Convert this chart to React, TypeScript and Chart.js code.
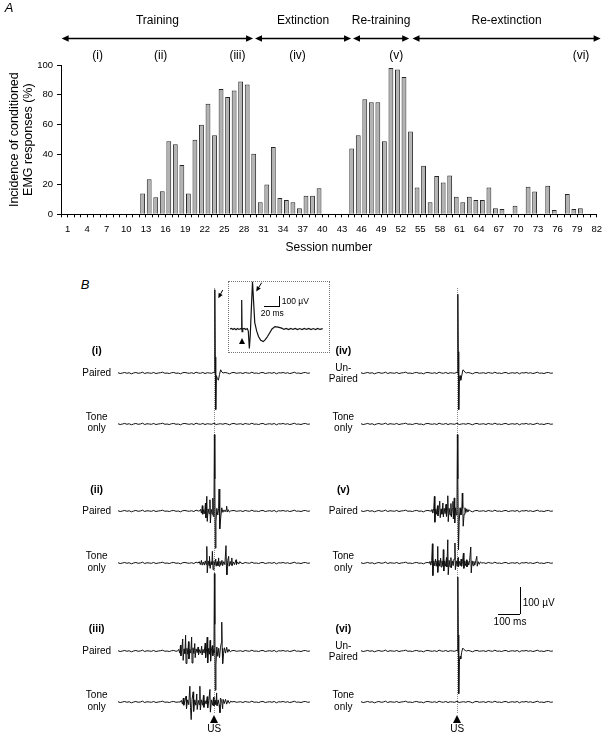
import React, { useEffect, useRef } from 'react';
import { Chart, registerables } from 'chart.js';

Chart.register(...registerables);
const FONT = '"Liberation Sans", Arial, Helvetica, sans-serif';
Chart.defaults.font.family = FONT;
Chart.defaults.color = '#000';

// ---------------- Panel A data ----------------
const sessions = [
  1, 2, 3, 4, 5, 6, 7, 8, 9, 10, 11, 12, 13, 14, 15, 16, 17, 18, 19, 20,
  21, 22, 23, 24, 25, 26, 27, 28, 29, 30, 31, 32, 33, 34, 35, 36, 37, 38, 39, 40,
  41, 42, 43, 44, 45, 46, 47, 48, 49, 50, 51, 52, 53, 54, 55, 56, 57, 58, 59, 60,
  61, 62, 63, 64, 65, 66, 67, 68, 69, 70, 71, 72, 73, 74, 75, 76, 77, 78, 79, 80,
  81, 82,
];
const incidence = [
  0, 0, 0, 0, 0, 0, 0, 0, 0, 0,
  0, 0, 14, 23.5, 11.5, 15.5, 49, 47, 33, 14,
  50, 60, 74, 53, 84, 78.5, 83, 89, 87, 40.5,
  8, 20, 45, 11, 9.5, 8, 4, 12.5, 12.5, 17.5,
  0, 0, 0, 0, 44, 53, 77, 75, 75, 49,
  98, 97, 92, 55.5, 18, 32.5, 8, 25.7, 21.3, 26,
  11.8, 8, 11.8, 9.6, 9.6, 18, 4, 3.6, 0, 5.8,
  0, 18.5, 15.2, 0, 19.2, 2.9, 0, 13.6, 3.6, 4,
  0, 0,
];
const tickSessions = [1, 4, 7, 10, 13, 16, 19, 22, 25, 28, 31, 34, 37, 40, 43, 46, 49, 52, 55, 58, 61, 64, 67, 70, 73, 76, 79, 82];
const yTicks = [0, 20, 40, 60, 80, 100];

const phaseNames = ['Training', 'Extinction', 'Re-training', 'Re-extinction'];
const phaseFrom = [0.6, 30.2, 45.2, 54.3];
const phaseTo = [29.9, 44.9, 53.8, 83.1];

const stageNames = ['(i)', '(ii)', '(iii)', '(iv)', '(v)', '(vi)'];
const stageSessions = [6.1, 15.75, 27.5, 36.7, 51.8, 80.1];

// ---------------- Panel B data (µV, ms relative to US) ----------------
const baselineNoise = [
  1, -2, 0, 2, -1, 1, -3, 0, 2, -1,
  0, 3, -2, 1, 0, -1, 2, -2, 0, 1,
  3, -1, 0, -2, 1, 2, -1, 0, -3, 1,
  2, 0, -1, 1, -2, 3, 0, -1, 2, -2,
  1, 0, -1, 3, -2, 0, 1, -1, 2, 0,
  -3, 1, 2, -1, 0, 1, -2, 2, 0, -1,
  3, -1, 0, -2, 1, 2, -2, 0, 1, -1,
  2, -3, 1, 0, 2, -1, 1, -2, 0, 3,
  -1, 0, -2, 1, 2, -1, 0, 1,
];

const burstIPaired = [[3, 0], [5, 312], [7, 60], [9, -137], [12, -10], [16, -20], [21, -27], [26, -5], [31, 12], [36, 4], [42, 0]];
const burstIIPaired = [[-64, 0], [-59, 6], [-55, -8], [-51, 20], [-49, -12], [-45, 5], [-41, -10], [-37, 30], [-35, -26], [-31, 55], [-29, -39], [-25, 8], [-21, -10], [-17, 42], [-15, -45], [-11, 6], [-7, -12], [-4, 48], [-2, -20], [1, 0], [3, 286], [5, 120], [7, -139], [10, -40], [14, 10], [18, -15], [22, 10], [24, 82], [26, 20], [28, -67], [32, -20], [36, 12], [41, -5], [46, 4], [51, -3], [56, 6], [58, 18], [60, -4], [65, 5], [70, -4], [75, 0]];
const burstIIIPaired = [[-162, 0], [-157, 6], [-152, -8], [-149, 22], [-147, -18], [-143, 5], [-139, 45], [-137, -35], [-133, 8], [-129, -10], [-126, 59], [-124, -47], [-120, 10], [-116, -12], [-113, 35], [-111, -30], [-107, 6], [-103, -8], [-99, 52], [-97, -45], [-93, 12], [-89, -10], [-85, 28], [-83, -25], [-79, 8], [-74, -6], [-70, 15], [-68, -14], [-63, 5], [-58, -8], [-54, 18], [-52, -15], [-48, 6], [-43, -8], [-38, 30], [-36, -25], [-32, 8], [-29, 52], [-27, -45], [-23, 10], [-19, -12], [-16, 40], [-14, -38], [-10, 8], [-6, 20], [-4, -18], [-1, 5], [1, -8], [3, 290], [5, 100], [7, -147], [10, -50], [14, 15], [18, -20], [22, 10], [26, -25], [30, 12], [34, 30], [36, 108], [38, 10], [40, -47], [44, -10], [48, 12], [53, -8], [58, 14], [63, -5], [68, 6], [74, -3], [80, 0]];
const burstIVPaired = [[2, 0], [5, 295], [7, 80], [9, -137], [12, -20], [15, -10], [18, -27], [23, -8], [28, 12], [33, 8], [38, 2], [44, 0]];
const burstVPaired = [[-115, 0], [-111, 6], [-107, -8], [-103, 10], [-100, 55], [-98, -42], [-94, 8], [-90, -12], [-86, 20], [-84, -18], [-80, 6], [-76, 37], [-74, -25], [-70, 8], [-66, -12], [-62, 30], [-60, -22], [-56, 10], [-52, -10], [-48, 25], [-46, -20], [-42, 8], [-40, 57], [-38, -40], [-34, 10], [-30, -15], [-26, 28], [-24, -22], [-20, 8], [-17, 36], [-15, -30], [-11, 49], [-9, -45], [-5, 12], [-2, -15], [1, 5], [3, 286], [5, 120], [8, -145], [11, -40], [15, 12], [19, -15], [23, 10], [25, 67], [27, 10], [29, -57], [33, -12], [37, 12], [41, -6], [45, 8], [50, -4], [55, 5], [61, 0]];
const burstVIPaired = [[2, 0], [5, 277], [7, 60], [9, -160], [12, -40], [15, -20], [18, -30], [22, -5], [27, 11], [32, 6], [38, 2], [44, 0]];

const burstIITone = [[-70, 0], [-65, 5], [-60, -6], [-55, 10], [-52, -8], [-47, 4], [-42, -8], [-38, 8], [-34, -6], [-31, 62], [-29, -37], [-25, 8], [-21, -10], [-19, 25], [-16, -20], [-12, 5], [-8, -6], [-6, 44], [-3, -25], [1, 6], [5, -8], [9, 15], [11, -12], [15, 5], [19, -10], [22, 19], [24, -12], [28, 6], [32, -8], [37, 10], [40, -10], [45, 5], [50, -6], [55, 65], [57, -15], [59, -44], [63, 10], [67, 25], [69, -12], [74, 6], [78, -8], [81, 19], [83, -10], [88, 4], [93, -6], [98, 8], [100, 12], [102, -6], [107, 4], [112, -4], [117, 5], [122, 0]];
const burstIIITone = [[-150, 0], [-145, 6], [-140, -8], [-136, 15], [-134, -12], [-129, 6], [-124, 22], [-122, -25], [-117, 8], [-112, -10], [-107, 59], [-104, -20], [-101, -66], [-97, 10], [-92, 38], [-90, -35], [-85, 8], [-80, -12], [-76, 30], [-74, -28], [-69, 6], [-65, -10], [-62, 59], [-60, -30], [-55, 8], [-50, -12], [-46, 25], [-44, -20], [-39, 5], [-34, -8], [-29, 20], [-27, -22], [-22, 6], [-17, 47], [-15, -38], [-10, 8], [-5, -12], [-1, 18], [1, -15], [6, 6], [10, -10], [13, 34], [15, -15], [20, 8], [24, -10], [28, -40], [30, 15], [35, 6], [40, -25], [42, 10], [47, -6], [53, 10], [58, -8], [64, 6], [70, -5], [76, 3], [82, 0]];
const burstVTone = [[-124, 0], [-120, 6], [-116, -8], [-112, 10], [-109, 72], [-107, -47], [-103, 8], [-99, -10], [-95, 15], [-92, -12], [-88, 8], [-86, 62], [-84, -35], [-80, 10], [-76, -12], [-72, 18], [-70, -15], [-66, 8], [-62, -10], [-60, 50], [-58, -30], [-54, 8], [-50, -12], [-46, 20], [-44, -15], [-40, 87], [-38, -44], [-34, 10], [-30, -15], [-26, 20], [-24, -18], [-20, 8], [-16, -10], [-12, 15], [-8, 75], [-6, -25], [-2, 8], [2, -12], [6, 20], [8, -15], [12, 6], [16, -10], [20, 15], [22, -12], [26, 6], [30, 37], [32, -20], [36, 8], [40, -10], [44, 12], [46, -15], [50, 6], [54, -8], [58, 10], [63, 60], [65, -37], [69, 8], [73, -10], [77, 6], [81, -8], [86, 10], [90, 25], [92, -12], [96, 5], [101, -5], [106, 4], [112, 0]];

const pairedBursts = [burstIPaired, burstIIPaired, burstIIIPaired, burstIVPaired, burstVPaired, burstVIPaired];
const toneBursts = [[], burstIITone, burstIIITone, [], burstVTone, []];
const pairedLabels = ['Paired', 'Paired', 'Paired', 'Un-\nPaired', 'Paired', 'Un-\nPaired'];
const toneLabel = 'Tone\nonly';

// inset (ms from sweep start, µV)
const insetTrace = [[0, 0], [2, 6], [4, -5], [6, 4], [8, -6], [10, 5], [12, -4], [14, 3], [15.2, 0], [15.6, 271], [16.1, -25], [17, 0], [19, 5], [21, -5], [23, 4], [24.4, -20], [25.8, -181], [27, -60], [28.5, 200], [30, 442], [31.5, 250], [33, 60], [35.6, -20], [38, -70], [41, -105], [44.4, -118], [47, -100], [50, -70], [53, -35], [56, 0], [60, 22], [64, 18], [69, 8], [72, -4], [75, 5], [78, -5], [81, 6], [84, -4], [87, 5], [90, -6], [93, 4], [96, -5], [99, 6], [102, -4], [105, 5], [108, -6], [111, 4], [114, -5], [117, 6], [120, -4], [123.6, 3]];

// ---------------- layout constants ----------------
const T_MIN = -429;
const T_MAX = 436;
const NOISE_STEP = 10;
const TRACE_W = 193;
const TRACE_H = 200;
const Y_HALF = 374.5;
const COL_TRACE_LEFT = [118, 361];
const COL_US_X = [213.7, 456.7];
const COL_LABEL_X = [96.7, 343.3];
const ROW_NUM_Y = [350, 489, 627.7];
const ROW_PAIRED_Y = [372.7, 511.3, 650.7];
const ROW_TONE_Y = [423.8, 563.3, 702.3];

function buildTrace(burst: number[][]) {
  const lo = burst.length ? burst[0][0] : Infinity;
  const hi = burst.length ? burst[burst.length - 1][0] : -Infinity;
  const pts: { x: number; y: number }[] = [];
  baselineNoise.forEach((v, i) => {
    const t = T_MIN + i * NOISE_STEP;
    if (t <= T_MAX && (t < lo || t > hi)) pts.push({ x: t, y: v });
  });
  burst.forEach(([t, v]) => pts.push({ x: t, y: v }));
  return pts.sort((a, b) => a.x - b.x);
}

const phasePlugin = {
  id: 'phases',
  afterDraw(chart: any) {
    const { ctx } = chart;
    const xs = chart.scales.x;
    const px = (s: number) => xs.getPixelForValue(s - 1);
    const TITLE_Y = 21;
    const ARROW_Y = 38.5;
    const NUM_Y = 55.5;
    ctx.save();
    ctx.fillStyle = '#000';
    ctx.strokeStyle = '#000';
    ctx.textAlign = 'center';
    ctx.textBaseline = 'middle';
    ctx.font = `12px ${FONT}`;
    const head = (x: number, dir: number) => {
      ctx.beginPath();
      ctx.moveTo(x, ARROW_Y);
      ctx.lineTo(x + dir * 7, ARROW_Y - 3.2);
      ctx.lineTo(x + dir * 7, ARROW_Y + 3.2);
      ctx.closePath();
      ctx.fill();
    };
    phaseNames.forEach((name, i) => {
      const x1 = px(phaseFrom[i]);
      const x2 = px(phaseTo[i]);
      ctx.fillText(name, (x1 + x2) / 2, TITLE_Y);
      ctx.lineWidth = 1.4;
      ctx.beginPath();
      ctx.moveTo(x1 + 4, ARROW_Y);
      ctx.lineTo(x2 - 4, ARROW_Y);
      ctx.stroke();
      head(x1, 1);
      head(x2, -1);
    });
    stageNames.forEach((s, i) => ctx.fillText(s, px(stageSessions[i]), NUM_Y));
    ctx.restore();
  },
};

function SessionChart() {
  const ref = useRef<HTMLCanvasElement>(null);
  useEffect(() => {
    const chart = new Chart(ref.current as HTMLCanvasElement, {
      type: 'bar',
      data: {
        labels: sessions.map(String),
        datasets: [{
          data: incidence,
          backgroundColor: '#b3b3b3',
          borderColor: '#262626',
          borderWidth: 1,
          barPercentage: 0.74,
          categoryPercentage: 1,
        }],
      },
      options: {
        animation: false,
        responsive: false,
        events: [],
        layout: { padding: { top: 65, right: 15.3, left: 0, bottom: 0 } },
        plugins: { legend: { display: false }, tooltip: { enabled: false } },
        scales: {
          x: {
            offset: true,
            grid: { offset: true, drawOnChartArea: false, tickLength: 3, color: '#000' },
            border: { color: '#000' },
            ticks: {
              autoSkip: false,
              maxRotation: 0,
              minRotation: 0,
              padding: 6,
              labelOffset: 3.3,
              color: '#000',
              font: { size: 9.5 },
              callback: (_v: any, i: number) => (tickSessions.includes(sessions[i]) ? String(sessions[i]) : ''),
            },
            title: { display: true, text: 'Session number', color: '#000', font: { size: 12 }, padding: { top: 0, bottom: 7 } },
            afterFit: (s: any) => { s.height = 47.7; },
          },
          y: {
            min: 0,
            max: 100,
            afterBuildTicks: (s: any) => { s.ticks = yTicks.map((v) => ({ value: v })); },
            grid: { drawOnChartArea: false, tickLength: 4, color: '#000' },
            border: { color: '#000' },
            ticks: { padding: 4, color: '#000', font: { size: 9.5 } },
            title: {
              display: true,
              text: ['Incidence of conditioned', 'EMG responses (%)'],
              color: '#000',
              font: { size: 12.5, lineHeight: 1.08 },
              padding: { top: 8.2, bottom: 0 },
            },
            afterFit: (s: any) => { s.width = 61; },
          },
        },
      },
      plugins: [phasePlugin],
    } as any);
    return () => chart.destroy();
  }, []);
  return <canvas ref={ref} width={612} height={262} style={{ position: 'absolute', left: 0, top: 0 }} />;
}

function LineCanvas({ points, left, top, width, height, xMin, xMax, yMin, yMax, lw = 1 }: any) {
  const ref = useRef<HTMLCanvasElement>(null);
  useEffect(() => {
    const chart = new Chart(ref.current as HTMLCanvasElement, {
      type: 'line',
      data: {
        datasets: [{
          data: points,
          borderColor: '#111',
          borderWidth: lw,
          pointRadius: 0,
          tension: 0,
          fill: false,
        }],
      },
      options: {
        animation: false,
        responsive: false,
        events: [],
        layout: { padding: 0 },
        plugins: { legend: { display: false }, tooltip: { enabled: false } },
        scales: {
          x: { type: 'linear', min: xMin, max: xMax, display: false },
          y: { type: 'linear', min: yMin, max: yMax, display: false },
        },
      },
    } as any);
    return () => chart.destroy();
  }, []);
  return (
    <canvas
      ref={ref}
      width={width}
      height={height}
      style={{ position: 'absolute', left, top, pointerEvents: 'none' }}
    />
  );
}

function Label({ x, y, text, size = 10, bold = false, italic = false, align = 'center' }: any) {
  const style: React.CSSProperties = {
    position: 'absolute',
    left: x,
    top: y,
    transform: align === 'center' ? 'translate(-50%, -50%)' : 'translate(0, -50%)',
    fontFamily: FONT,
    fontSize: size,
    lineHeight: `${size * 1.15}px`,
    fontWeight: bold ? 'bold' : 'normal',
    fontStyle: italic ? 'italic' : 'normal',
    whiteSpace: 'pre',
    textAlign: 'center',
    color: '#000',
  };
  return <div style={style}>{text}</div>;
}

function Arrow({ x1, y1, x2, y2 }: any) {
  const ang = Math.atan2(y2 - y1, x2 - x1);
  const L = 5;
  const W = 2.3;
  const bx = x2 - L * Math.cos(ang);
  const by = y2 - L * Math.sin(ang);
  const p1 = [bx + W * Math.sin(ang), by - W * Math.cos(ang)];
  const p2 = [bx - W * Math.sin(ang), by + W * Math.cos(ang)];
  return (
    <svg width={612} height={739} style={{ position: 'absolute', left: 0, top: 0, pointerEvents: 'none' }}>
      <line x1={x1} y1={y1} x2={bx} y2={by} stroke="#000" strokeWidth={1} />
      <polygon points={`${x2},${y2} ${p1[0]},${p1[1]} ${p2[0]},${p2[1]}`} fill="#000" />
    </svg>
  );
}

function Triangle({ x, top, w, h }: any) {
  return (
    <div
      style={{
        position: 'absolute',
        left: x - w / 2,
        top,
        width: 0,
        height: 0,
        borderLeft: `${w / 2}px solid transparent`,
        borderRight: `${w / 2}px solid transparent`,
        borderBottom: `${h}px solid #000`,
      }}
    />
  );
}

export default function App() {
  const traces: any[] = [];
  const labels: any[] = [];
  [0, 1].forEach((c) => {
    [0, 1, 2].forEach((r) => {
      const k = c * 3 + r;
      traces.push(
        <LineCanvas key={`p${k}`} points={buildTrace(pairedBursts[k])} left={COL_TRACE_LEFT[c]} top={ROW_PAIRED_Y[r] - TRACE_H / 2}
          width={TRACE_W} height={TRACE_H} xMin={T_MIN} xMax={T_MAX} yMin={-Y_HALF} yMax={Y_HALF} />,
        <LineCanvas key={`t${k}`} points={buildTrace(toneBursts[k])} left={COL_TRACE_LEFT[c]} top={ROW_TONE_Y[r] - TRACE_H / 2}
          width={TRACE_W} height={TRACE_H} xMin={T_MIN} xMax={T_MAX} yMin={-Y_HALF} yMax={Y_HALF} />,
      );
      labels.push(
        <Label key={`n${k}`} x={COL_LABEL_X[c]} y={ROW_NUM_Y[r]} text={stageNames[k]} size={10.5} bold />,
        <Label key={`l${k}`} x={COL_LABEL_X[c]} y={ROW_PAIRED_Y[r]} text={pairedLabels[k]} size={10} />,
        <Label key={`o${k}`} x={COL_LABEL_X[c]} y={ROW_TONE_Y[r] - 2} text={toneLabel} size={10} />,
      );
    });
  });

  return (
    <div style={{ position: 'absolute', left: 0, top: 0, width: 612, height: 739, background: '#fff', overflow: 'hidden' }}>
      <SessionChart />
      <Label x={9} y={8} text="A" size={13} italic />
      <Label x={85} y={285} text="B" size={13} italic />

      {COL_US_X.map((x, i) => (
        <div key={`us${i}`} style={{ position: 'absolute', left: x, top: 288, height: 425, width: 0, borderLeft: '1px dotted #8a8a8a' }} />
      ))}

      {/* inset */}
      <div style={{ position: 'absolute', left: 227.7, top: 280.5, width: 100.6, height: 70.8, border: '1px dotted #777' }} />
      <LineCanvas points={insetTrace.map(([x, y]) => ({ x, y }))} left={230} top={280} width={93} height={72}
        xMin={0} xMax={124} yMin={-215} yMax={458} lw={1.2} />
      <Triangle x={241.7} top={337.5} w={6} h={6} />
      <div style={{ position: 'absolute', left: 264.3, top: 306.2, width: 15, height: 0, borderTop: '1px solid #000' }} />
      <div style={{ position: 'absolute', left: 279.3, top: 296, width: 0, height: 11, borderLeft: '1px solid #000' }} />
      <Label x={281.7} y={302} text="100 µV" size={8.5} align="left" />
      <Label x={272.3} y={313.7} text="20 ms" size={8.5} />
      <Arrow x1={261.7} y1={282.7} x2={256.2} y2={291.5} />

      {traces}
      {labels}

      <Arrow x1={222.7} y1={290} x2={218.3} y2={298.3} />

      {COL_US_X.map((x, i) => (
        <React.Fragment key={`m${i}`}>
          <Triangle x={x + 0.5} top={715} w={8} h={8} />
          <Label x={x + 0.5} y={728.5} text="US" size={10} />
        </React.Fragment>
      ))}

      {/* main scale bar */}
      <div style={{ position: 'absolute', left: 520, top: 587.3, width: 0, height: 27, borderLeft: '1px solid #000' }} />
      <div style={{ position: 'absolute', left: 497.7, top: 614, width: 22.8, height: 0, borderTop: '1px solid #000' }} />
      <Label x={522.7} y={602.7} text="100 µV" size={10} align="left" />
      <Label x={510} y={622.3} text="100 ms" size={10} />
    </div>
  );
}
